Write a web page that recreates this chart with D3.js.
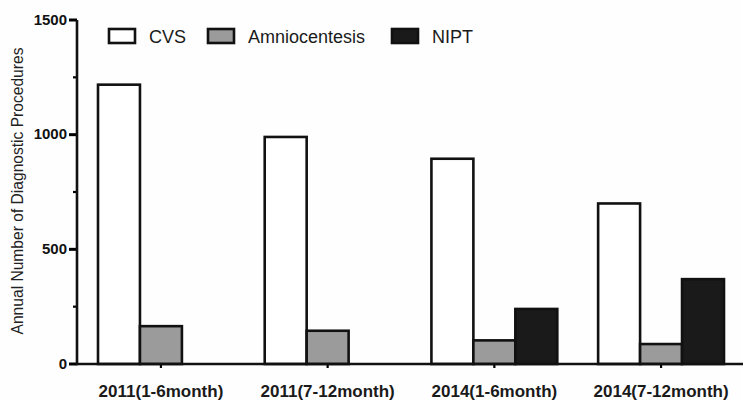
<!DOCTYPE html>
<html><head><meta charset="utf-8">
<script src="https://cdn.jsdelivr.net/npm/d3@7"></script>
<style>
body{margin:0;background:#fff}
svg{display:block;font-family:Arial,"Liberation Sans",sans-serif}
</style>
</head><body>
<svg id="chart" width="743" height="401"></svg>
<script>
const categories = ["2011(1-6month)", "2011(7-12month)", "2014(1-6month)", "2014(7-12month)"];
const seriesNames = ["CVS", "Amniocentesis", "NIPT"];
const cvsValues = [1218, 990, 895, 700];
const amnioValues = [165, 145, 103, 87];
const niptValues = [null, null, 240, 370];
const yMajorTicks = [0, 500, 1000, 1500];
const yMinorTicks = [250, 750, 1250];
const seriesColors = ["#ffffff", "#9b9b9b", "#1a1a1a"];
const yTitle = "Annual Number of Diagnostic Procedures";

const seriesValues = [cvsValues, amnioValues, niptValues];
const svg = d3.select("#chart");
svg.append("rect").attr("width", 743).attr("height", 401).attr("fill", "#fefefe");

const y = d3.scaleLinear().domain([0, 1500]).range([364, 20]);
const x0 = d3.scaleBand().domain(categories).range([77, 745]).paddingInner(0.245).paddingOuter(0.126);
const x1 = d3.scaleBand().domain(seriesNames).range([0, x0.bandwidth()]);
const color = d3.scaleOrdinal().domain(seriesNames).range(seriesColors);

// bars
const rows = [];
categories.forEach((c, i) => seriesNames.forEach((s, j) => {
  const v = seriesValues[j][i];
  if (v != null) rows.push({c, s, v});
}));
svg.append("g").selectAll("rect").data(rows).join("rect")
  .attr("x", d => x0(d.c) + x1(d.s))
  .attr("y", d => y(d.v))
  .attr("width", x1.bandwidth())
  .attr("height", d => y(0) - y(d.v))
  .attr("fill", d => color(d.s))
  .attr("stroke", "#111")
  .attr("stroke-width", 2.6);

// y axis minor ticks
const gMinor = svg.append("g").attr("transform", "translate(77,0)")
  .call(d3.axisLeft(y).tickValues(yMinorTicks).tickSize(4).tickFormat("").offset(0));
gMinor.select(".domain").remove();
gMinor.selectAll("line").attr("stroke", "#000").attr("stroke-width", 2.2);

// y axis
const gy = svg.append("g").attr("transform", "translate(77,0)")
  .call(d3.axisLeft(y).tickValues(yMajorTicks).tickFormat(d3.format("d")).tickSize(8).tickSizeOuter(0).tickPadding(2).offset(0));
gy.select(".domain").remove();
gy.selectAll(".tick line").attr("stroke", "#000").attr("stroke-width", 3);
gy.selectAll("text").attr("font-size", 15).attr("font-weight", "bold").attr("fill", "#111")
  .attr("font-family", "Arial, 'Liberation Sans', sans-serif");

// x axis
const gx = svg.append("g").attr("transform", "translate(0,364)")
  .call(d3.axisBottom(x0).tickSize(4).tickSizeOuter(0).offset(0));
gx.select(".domain").remove();
gx.selectAll(".tick line").attr("stroke", "#000").attr("stroke-width", 2.2);
gx.selectAll("text").attr("y", 33).attr("dy", 0).attr("font-size", 17).attr("font-weight", "bold")
  .attr("fill", "#1a1a1a").attr("font-family", "Arial, 'Liberation Sans', sans-serif");

// axis lines drawn from the scales
const xr = x0.range(), yr = y.range();
svg.append("line").attr("x1", xr[0]).attr("x2", xr[1]).attr("y1", y(0)).attr("y2", y(0))
  .attr("stroke", "#111").attr("stroke-width", 2.6);
svg.append("line").attr("x1", xr[0]).attr("x2", xr[0]).attr("y1", yr[0] + 1.3).attr("y2", yr[1])
  .attr("stroke", "#111").attr("stroke-width", 2.6);

// y title
svg.append("text")
  .attr("transform", "translate(23,191) rotate(-90)")
  .attr("text-anchor", "middle")
  .attr("font-size", 15.6)
  .attr("fill", "#222")
  .text(yTitle);

// legend
const legendX = [109, 208, 392];
const lg = svg.append("g").selectAll("g").data(seriesNames).join("g")
  .attr("transform", (d, i) => `translate(${legendX[i]},29)`);
lg.append("rect").attr("width", 26).attr("height", 14)
  .attr("fill", d => color(d)).attr("stroke", "#111").attr("stroke-width", 2.6);
lg.append("text").attr("x", 40).attr("y", 13.5).attr("font-size", 18).attr("fill", "#1a1a1a").text(d => d);
</script>
</body></html>
